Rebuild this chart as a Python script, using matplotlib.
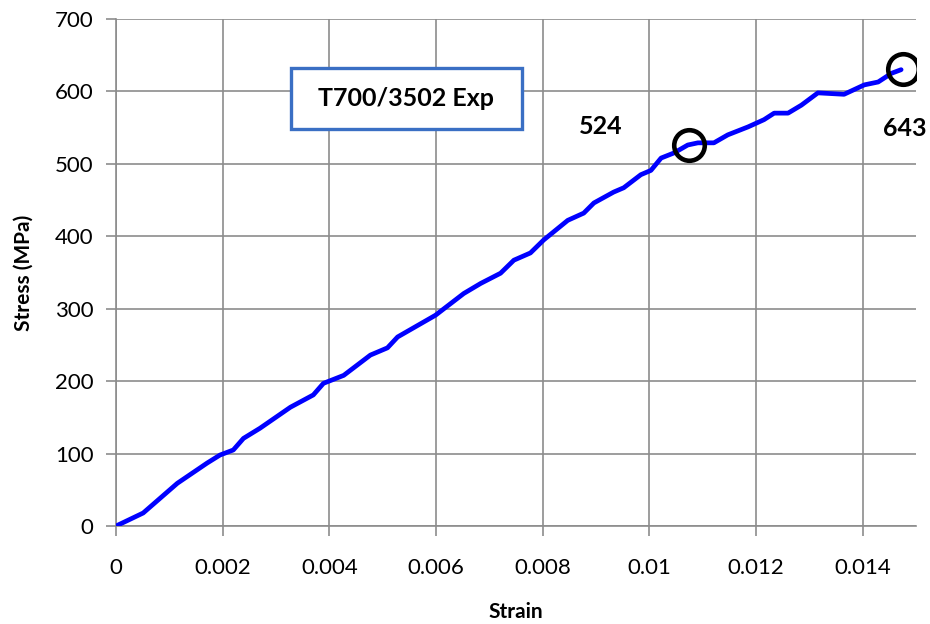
import numpy as np
import matplotlib.pyplot as plt
from matplotlib.patches import Rectangle

plt.rcParams['font.family'] = ['Lato', 'DejaVu Sans']

# stress-strain curve
strain = [0.0, 0.00051, 0.00115, 0.00171, 0.00195, 0.0022, 0.00239, 0.0027,
          0.00327, 0.0037, 0.00389, 0.00427, 0.00477, 0.00509, 0.00528, 0.00599,
          0.00652, 0.00684, 0.00721, 0.00746, 0.00777, 0.00802, 0.00847, 0.00877,
          0.00896, 0.00933, 0.00952, 0.00984, 0.01003, 0.01022, 0.01046, 0.01072,
          0.01091, 0.01121, 0.01147, 0.01185, 0.01215, 0.01234, 0.0126, 0.01285,
          0.01316, 0.01365, 0.01403, 0.01429, 0.01454, 0.01472]
stress = [0, 18, 59, 87, 98, 105, 121, 135,
          164, 181, 197, 208, 236, 246, 261, 291,
          321, 335, 349, 367, 377, 395, 422, 432,
          446, 461, 467, 485, 491, 508, 515, 526,
          529, 529, 540, 551, 561, 570, 570, 581,
          598, 596, 609, 613, 625, 630]

# circled points and their labels
mark_strain = [0.01074, 0.01475]
mark_stress = [526, 631]
mark_text = ['524', '643']
text_strain = [0.00909, 0.01478]
text_stress = [551, 549]

fig = plt.figure(figsize=(9.3, 6.24), dpi=100)
ax = fig.add_axes([0.1247, 0.157, 0.8603, 0.8126])

ax.plot(strain, stress, color='#0000FF', lw=3.4, solid_capstyle='round',
        solid_joinstyle='round', zorder=3)
ax.plot(mark_strain, mark_stress, 'o', ms=22, mfc='none', mec='black', mew=3.3, zorder=4)
for xs, ys, t in zip(text_strain, text_stress, mark_text):
    ax.text(xs, ys, t, ha='center', va='center', fontsize=18, fontweight='bold')

# legend-like title box
ax.add_patch(Rectangle((0.219, 0.783), 0.289, 0.1203, transform=ax.transAxes,
                       fc='white', ec='#3A6FC4', lw=2.4, zorder=5))
ax.text(0.363, 0.843, 'T700/3502 Exp', transform=ax.transAxes, ha='center',
        va='center', fontsize=18, fontweight='bold', zorder=6)

ax.set_xlim(0, 0.015)
ax.set_ylim(0, 700)
ax.set_xticks(np.arange(0, 0.0141, 0.002))
ax.set_xticklabels(['0', '0.002', '0.004', '0.006', '0.008', '0.01', '0.012', '0.014'])
ax.set_yticks(np.arange(0, 701, 100))
ax.grid(True, color='#8c8c8c', lw=1.2)
ax.set_axisbelow(True)
for s in ['top', 'right']:
    ax.spines[s].set_visible(False)
for s in ['left', 'bottom']:
    ax.spines[s].set_color('#8c8c8c')
    ax.spines[s].set_linewidth(1.2)
ax.tick_params(direction='out', length=7, width=1.2, color='#8c8c8c',
               labelsize=16, pad=9)
ax.tick_params(axis='x', pad=16)
ax.set_xlabel('Strain', fontsize=15, fontweight='bold', va='center')
ax.xaxis.set_label_coords(0.5, -0.17)
ax.set_ylabel('Stress (MPa)', fontsize=15, fontweight='bold', va='center')
ax.yaxis.set_label_coords(-0.116, 0.5)

fig.savefig('out.png', dpi=100)
